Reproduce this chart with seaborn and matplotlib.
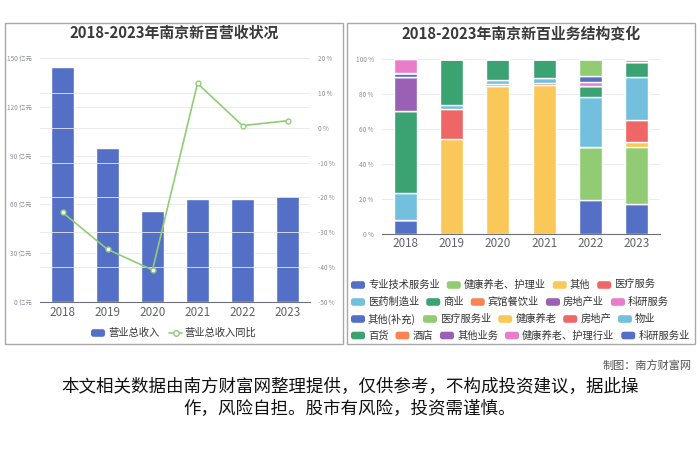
import numpy as np
import matplotlib
matplotlib.use("Agg")
import matplotlib.pyplot as plt
import seaborn as sns
from matplotlib.patches import Rectangle, FancyBboxPatch
from matplotlib.lines import Line2D

# ---------------- data ----------------
years = ["2018", "2019", "2020", "2021", "2022", "2023"]
revenue = [144.6, 94.5, 56.0, 63.3, 63.5, 65.0]          # 亿元
revenue_yoy = [-24.3, -34.9, -40.8, 12.7, 0.6, 2.0]      # %

rev_ticks = [0, 30, 60, 90, 120, 150]
yoy_ticks = [-50, -40, -30, -20, -10, 0, 10, 20]
share_ticks = [0, 20, 40, 60, 80, 100]

segments = ["专业技术服务业", "健康养老、护理业", "其他", "医疗服务",
            "医药制造业", "商业", "宾馆餐饮业", "房地产业", "科研服务",
            "其他(补充)", "医疗服务业", "健康养老", "房地产", "物业",
            "百货", "酒店", "其他业务", "健康养老、护理行业", "科研服务业"]
seg_专业技术服务业 = [8.2, 0, 0, 0, 19.6, 17.3]
seg_健康养老护理业 = [0, 0, 0, 0, 30.4, 32.7]
seg_其他 = [0, 54.1, 84.6, 85.3, 0, 2.9]
seg_医疗服务 = [0, 17.3, 1.0, 0.8, 0, 12.4]
seg_医药制造业 = [15.2, 2.3, 2.4, 2.9, 28.2, 24.7]
seg_商业 = [46.8, 26.3, 12.0, 11.0, 6.4, 8.2]
seg_宾馆餐饮业 = [0, 0, 0, 0, 0, 0]
seg_房地产业 = [19.7, 0, 0, 0, 0, 0]
seg_科研服务 = [0, 0, 0, 0, 2.1, 1.8]
seg_其他补充 = [1.9, 0, 0, 0, 3.8, 0]
seg_医疗服务业 = [0, 0, 0, 0, 9.5, 0]
seg_健康养老 = [0, 0, 0, 0, 0, 0]
seg_房地产 = [0, 0, 0, 0, 0, 0]
seg_物业 = [0, 0, 0, 0, 0, 0]
seg_百货 = [0, 0, 0, 0, 0, 0]
seg_酒店 = [0, 0, 0, 0, 0, 0]
seg_其他业务 = [0, 0, 0, 0, 0, 0]
seg_健康养老护理行业 = [8.2, 0, 0, 0, 0, 0]
seg_科研服务业 = [0, 0, 0, 0, 0, 0]
seg_values = [seg_专业技术服务业, seg_健康养老护理业, seg_其他, seg_医疗服务,
              seg_医药制造业, seg_商业, seg_宾馆餐饮业, seg_房地产业, seg_科研服务,
              seg_其他补充, seg_医疗服务业, seg_健康养老, seg_房地产, seg_物业,
              seg_百货, seg_酒店, seg_其他业务, seg_健康养老护理行业, seg_科研服务业]
legend_rows = [segments[0:4], segments[4:9], segments[9:14], segments[14:19]]

palette = ["#5470c6", "#91cc75", "#fac858", "#ee6666", "#73c0de",
           "#3ba272", "#fc8452", "#9a60b4", "#ea7ccc"]

# ---------------- style ----------------
sns.set_style("white")
plt.rcParams['font.family'] = ['Noto Sans CJK SC', 'DejaVu Sans']
plt.rcParams['axes.unicode_minus'] = False

W, H = 700, 467
fig = plt.figure(figsize=(W / 100, H / 100), dpi=100)
fig.patch.set_facecolor("white")

def rect(x0, y0, x1, y1):
    return [x0 / W, (H - y1) / H, (x1 - x0) / W, (y1 - y0) / H]

TICK_C = "#6e7079"
GRID_C = "#e6e8ef"
YEAR_FS = 8.4
YTICK_FS = 4.6

# ---------------- left chart ----------------
ax1 = fig.add_axes(rect(40, 58, 310, 302))
sns.barplot(x=years, y=revenue, color=palette[0], saturation=1, width=0.51,
            errorbar=None, ax=ax1, zorder=2)
ax1.set_ylim(0, 150)
ax1.set_yticks(rev_ticks, [f"{v} 亿元" for v in rev_ticks])
ax2 = ax1.twinx()
sns.lineplot(x=np.arange(len(years)), y=revenue_yoy, ax=ax2, color=palette[1],
             linewidth=1.2, marker="o", markersize=3.5, markerfacecolor="white",
             markeredgecolor=palette[1], markeredgewidth=1.0, zorder=5)
ax2.set_ylim(-50, 20)
ax2.set_yticks(yoy_ticks, [f"{v} %" for v in yoy_ticks])
ax1.set_xlim(-0.5, len(years) - 0.5)
ax1.set_xticks(range(len(years)), years)
ax1.set_xticks(np.arange(-0.5, len(years)), minor=True)
for a in (ax1, ax2):
    a.set_xlabel("")
    a.set_ylabel("")
    for s in a.spines.values():
        s.set_visible(False)
    a.yaxis.grid(True, color=GRID_C, linewidth=0.6)
    a.set_axisbelow(True)
    a.tick_params(axis="y", length=0, labelsize=YTICK_FS, labelcolor="#8a8d95", pad=6)
ax1.spines["bottom"].set_visible(True)
ax1.spines["bottom"].set_color(TICK_C)
ax1.spines["bottom"].set_linewidth(0.8)
ax1.tick_params(axis="x", which="major", length=0, labelsize=YEAR_FS,
                labelcolor="#5f626b", pad=3)
ax1.tick_params(axis="x", which="minor", length=4, color=TICK_C, width=0.8)
ax2.set_zorder(ax1.get_zorder() + 1)
ax2.patch.set_visible(False)

# ---------------- right chart ----------------
ax3 = fig.add_axes(rect(382, 59, 660, 234.3))
cum = np.zeros(len(years))
for i, (name, vals) in enumerate(zip(segments, seg_values)):
    vals = np.asarray(vals, dtype=float)
    sns.barplot(x=years, y=vals, bottom=cum, color=palette[i % len(palette)],
                saturation=1, width=0.49, errorbar=None, ax=ax3, zorder=2)
    cum = cum + vals
ax3.set_ylim(0, 100)
ax3.set_xlim(-0.5, len(years) - 0.5)
ax3.set_yticks(share_ticks, [f"{v} %" for v in share_ticks])
ax3.set_xticks(range(len(years)), years)
ax3.set_xticks(np.arange(-0.5, len(years)), minor=True)
ax3.set_xlabel("")
ax3.set_ylabel("")
for s in ax3.spines.values():
    s.set_visible(False)
ax3.spines["bottom"].set_visible(True)
ax3.spines["bottom"].set_color(TICK_C)
ax3.spines["bottom"].set_linewidth(0.8)
ax3.yaxis.grid(True, color=GRID_C, linewidth=0.6)
ax3.set_axisbelow(True)
ax3.tick_params(axis="y", length=0, labelsize=YTICK_FS, labelcolor="#8a8d95", pad=6)
ax3.tick_params(axis="x", which="major", length=0, labelsize=YEAR_FS,
                labelcolor="#5f626b", pad=2)
ax3.tick_params(axis="x", which="minor", length=4, color=TICK_C, width=0.8)

# ---------------- overlay (frames, titles, legends, notes) ----------------
ov = fig.add_axes([0, 0, 1, 1], zorder=10)
ov.set_xlim(0, W)
ov.set_ylim(H, 0)
ov.axis("off")
ov.patch.set_visible(False)

for (x0, y0, x1, y1) in [(5, 23, 343, 344), (347, 23, 695, 344)]:
    ov.add_patch(Rectangle((x0, y0), x1 - x0, y1 - y0, fill=False,
                           edgecolor="#a8a8a8", linewidth=1.0))

ov.text(174, 33, "2018-2023年南京新百营收状况", ha="center", va="center",
        fontsize=10.7, fontweight="bold", color="#3a3a3a")
ov.text(521, 33, "2018-2023年南京新百业务结构变化", ha="center", va="center",
        fontsize=10.7, fontweight="bold", color="#3a3a3a")

renderer = fig.canvas.get_renderer()
LEG_FS = 7.4
SW_W = 14.0
SW_GAP = 3.0
ITEM_GAP = 7.0

def swatch(x, y, color):
    ov.add_patch(FancyBboxPatch((x, y - 3.8), SW_W, 7.6,
                                boxstyle="round,pad=0,rounding_size=2.5",
                                facecolor=color, edgecolor="none"))

def label(x, y, s):
    t = ov.text(x, y, s, ha="left", va="center", fontsize=LEG_FS, color="#333333")
    bb = t.get_window_extent(renderer)
    return bb.width

# left legend
x = 91
swatch(x, 333, palette[0])
x += SW_W + SW_GAP
x += label(x, 333, "营业总收入") + 10
ov.add_line(Line2D([x, x + 13], [333, 333], color=palette[1], linewidth=1.2))
ov.plot([x + 6.5], [333], marker="o", markersize=4, markerfacecolor="white",
        markeredgecolor=palette[1], markeredgewidth=1.0)
x += 13 + 2.5
label(x, 333, "营业总收入同比")

# right legend (flow layout, same row breaks as reference)
row_y = [285, 302, 319, 335.5]
k = 0
for r, row in enumerate(legend_rows):
    x = 351
    for name in row:
        swatch(x, row_y[r], palette[k % len(palette)])
        x += SW_W + SW_GAP
        x += label(x, row_y[r], name) + ITEM_GAP
        k += 1

ov.text(692, 365, "制图：南方财富网", ha="right", va="center", fontsize=8, color="#555555")
ov.text(350, 387, "本文相关数据由南方财富网整理提供，仅供参考，不构成投资建议，据此操",
        ha="center", va="center", fontsize=12.6, color="#111111")
ov.text(350, 409, "作，风险自担。股市有风险，投资需谨慎。",
        ha="center", va="center", fontsize=12.6, color="#111111")

fig.savefig("out.png", dpi=100, facecolor="white")
